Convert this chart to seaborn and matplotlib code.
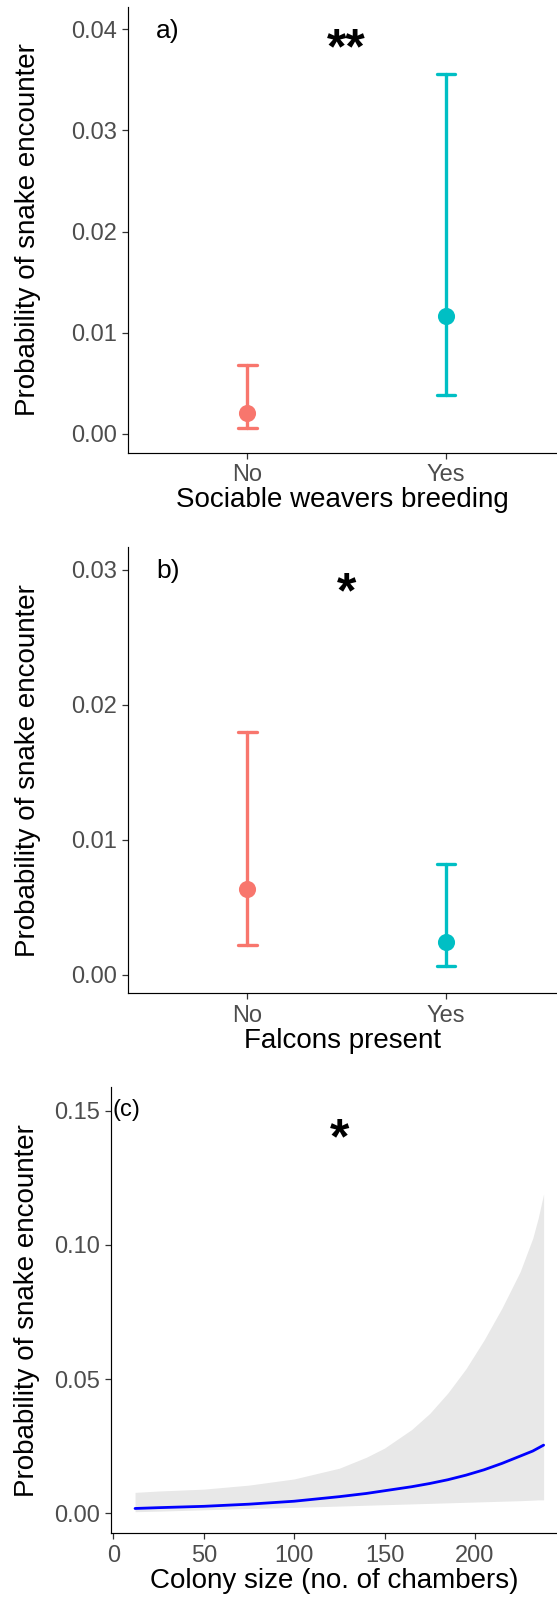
import numpy as np
import pandas as pd
import matplotlib
matplotlib.use("Agg")
import matplotlib.pyplot as plt
import seaborn as sns

# ---- data ----
breeding_levels = ["No", "Yes"]
breeding_est = [0.00211, 0.01168]
breeding_lo = [0.00061, 0.00381]
breeding_hi = [0.00681, 0.03557]

falcon_levels = ["No", "Yes"]
falcon_est = [0.00635, 0.00247]
falcon_lo = [0.00222, 0.00069]
falcon_hi = [0.01802, 0.00822]

colony_x = [12, 25, 50, 75, 100, 125, 140, 150, 165, 175, 185, 195, 205, 215, 225, 232, 235, 238]
colony_fit = [0.0018, 0.0021, 0.0026, 0.0034, 0.0045, 0.0062, 0.0074, 0.0084, 0.0099, 0.0111,
              0.0125, 0.0142, 0.0162, 0.0186, 0.0213, 0.0232, 0.0243, 0.0254]
colony_lo = [0.0006, 0.0008, 0.0013, 0.0018, 0.0022, 0.0027, 0.0030, 0.0032, 0.0035, 0.0037,
             0.0039, 0.0041, 0.0043, 0.0045, 0.0047, 0.0049, 0.0050, 0.0050]
colony_hi = [0.0078, 0.0083, 0.0090, 0.0105, 0.0128, 0.0168, 0.0209, 0.0243, 0.0312, 0.0372,
             0.0448, 0.0538, 0.0645, 0.0765, 0.0900, 0.1025, 0.1100, 0.1190]

yticks_a = [0.00, 0.01, 0.02, 0.03, 0.04]
yticks_b = [0.00, 0.01, 0.02, 0.03]
yticks_c = [0.00, 0.05, 0.10, 0.15]
xticks_c = [0, 50, 100, 150, 200]

group_colors = ["#F8766D", "#00BFC4"]

# ---- style ----
sns.set_theme(style="ticks")
plt.rcParams["font.family"] = ["Liberation Sans", "DejaVu Sans"]
plt.rcParams["axes.linewidth"] = 0.85
plt.rcParams["axes.edgecolor"] = "black"

W, H = 557, 1598
fig = plt.figure(figsize=(W / 100, H / 100), dpi=100)


def add_ax(left, top, bottom, right=W):
    return fig.add_axes([left / W, 1 - bottom / H, (right - left) / W, (bottom - top) / H])


def style_ax(ax, xlabel, label_x):
    sns.despine(ax=ax)
    ax.tick_params(axis="both", length=4.5, width=0.9, color="#333333",
                   labelcolor="#4D4D4D", labelsize=17, pad=3.6)
    ax.set_ylabel("Probability of snake encounter", fontsize=20, color="black")
    ax.set_xlabel(xlabel, fontsize=20, color="black")
    ax.yaxis.set_label_coords(label_x, 0.5)
    ax.yaxis.label.set_verticalalignment("center")
    ax.xaxis.set_label_coords(0.5, -0.106)
    ax.xaxis.label.set_verticalalignment("center")
    ax.grid(False)


def ci_panel(ax, levels, est, lo, hi):
    df = pd.DataFrame({
        "level": np.repeat(levels, 3),
        "value": np.ravel(np.column_stack([lo, est, hi])),
    })
    sns.pointplot(data=df, x="level", y="value", hue="level", order=levels,
                  hue_order=levels, palette=group_colors, estimator="median",
                  errorbar=lambda v: (np.min(v), np.max(v)), capsize=0.095,
                  linestyle="none", markersize=10.5, linewidth=2.4,
                  err_kws={"linewidth": 2.4}, legend=False, ax=ax)


# ---- panel a ----
ax1 = add_ax(128.3, 7.3, 452.7)
ci_panel(ax1, breeding_levels, breeding_est, breeding_lo, breeding_hi)
ax1.set_xlim(-0.6, 1.559)
ax1.set_ylim(-0.00185, 0.04217)
ax1.set_yticks(yticks_a)
ax1.set_yticklabels([f"{t:.2f}" for t in yticks_a])
style_ax(ax1, "Sociable weavers breeding", -0.234)
ax1.text(-0.4, 0.0398, "a)", fontsize=19, ha="center", va="center", color="black")
ax1.text(0.5, 0.0366, "**", fontsize=36, fontweight="bold", ha="center", va="baseline", color="black")

# ---- panel b ----
ax2 = add_ax(128.3, 547.3, 993.3)
ci_panel(ax2, falcon_levels, falcon_est, falcon_lo, falcon_hi)
ax2.set_xlim(-0.6, 1.559)
ax2.set_ylim(-0.00136, 0.03168)
ax2.set_yticks(yticks_b)
ax2.set_yticklabels([f"{t:.2f}" for t in yticks_b])
style_ax(ax2, "Falcons present", -0.234)
ax2.text(-0.4, 0.0299, "b)", fontsize=19, ha="center", va="center", color="black")
ax2.text(0.5, 0.0272, "*", fontsize=36, fontweight="bold", ha="center", va="baseline", color="black")

# ---- panel c ----
ax3 = add_ax(111, 1087.3, 1533.3)
ax3.fill_between(colony_x, colony_lo, colony_hi, color="#E8E8E8", linewidth=0)
sns.lineplot(x=colony_x, y=colony_fit, color="#0000FF", linewidth=2.0, ax=ax3)
ax3.set_xlim(-1.3, 245.4)
ax3.set_ylim(-0.00745, 0.1587)
ax3.set_xticks(xticks_c)
ax3.set_yticks(yticks_c)
ax3.set_yticklabels([f"{t:.2f}" for t in yticks_c])
style_ax(ax3, "Colony size (no. of chambers)", -0.188)
ax3.text(7.4, 0.1503, "(c)", fontsize=17, ha="center", va="center", color="black")
ax3.text(125, 0.1340, "*", fontsize=36, fontweight="bold", ha="center", va="baseline", color="black")

fig.savefig("out.png", dpi=100)
